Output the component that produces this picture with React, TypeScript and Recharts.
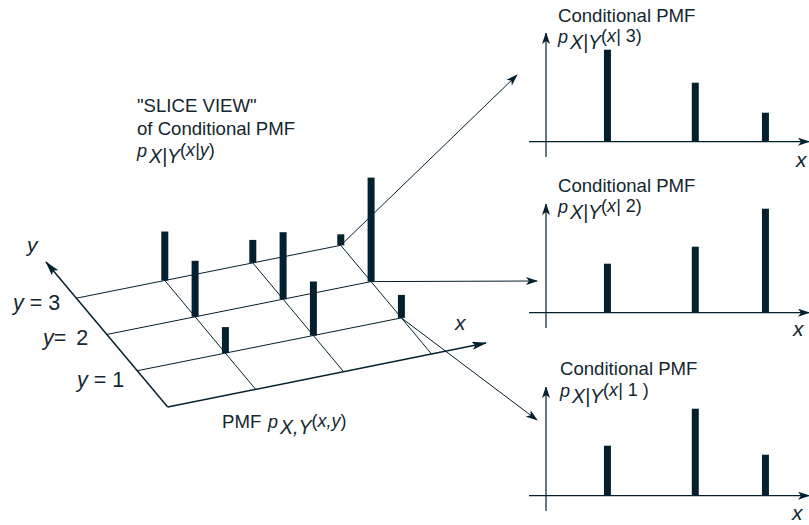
import { BarChart, Bar, ComposedChart, Line, ReferenceLine, XAxis, YAxis } from 'recharts';

const INK = '#04202e';
const TEXT = '#14262f';
const FONT = '"Liberation Sans", Arial, sans-serif';

// joint PMF stems, one list per y level, x = 1, 2, 3
const xLevels = [1, 2, 3];
const yLevels = [1, 2, 3];
const jointY1 = [0.26, 0.54, 0.23];
const jointY2 = [0.56, 0.67, 1.04];
const jointY3 = [0.49, 0.23, 0.11];

// conditional PMF panels
const supportX = [1, 2.44, 3.59];
const condY3 = [0.92, 0.59, 0.29];
const condY2 = [0.49, 0.66, 1.04];
const condY1 = [0.5, 0.87, 0.41];

// oblique projection of the plane onto the page
const ORIGIN = { x: 167.7, y: 407 };
const X_STEP = { x: 88, y: -17.6 };
const Y_STEP = { x: -30.3, y: -36.3 };
const project = (gx: number, gy: number) => ({
  px: ORIGIN.x + gx * X_STEP.x + gy * Y_STEP.x,
  py: ORIGIN.y + gx * X_STEP.y + gy * Y_STEP.y,
});

function stem(gx: number, gy: number, value: number) {
  const base = project(gx, gy);
  return [base, { px: base.px, py: base.py - value * 100 }];
}

const gridLines = [
  ...yLevels.map((gy) => [project(0, gy), project(3, gy)]),
  ...xLevels.map((gx) => [project(gx, 0), project(gx, 3)]),
];
const stems = [
  ...jointY3.map((v, i) => stem(xLevels[i], 3, v)),
  ...jointY2.map((v, i) => stem(xLevels[i], 2, v)),
  ...jointY1.map((v, i) => stem(xLevels[i], 1, v)),
];
const connectors = [
  [project(3, 3), { px: 517, py: 75 }],
  [project(3, 2), { px: 537, py: 281 }],
  [project(3, 1), { px: 537, py: 420 }],
];

function Arrow({ id, length = 12 }: { id: string; length?: number }) {
  return (
    <marker id={id} markerUnits="userSpaceOnUse" viewBox={`0 0 ${length} 8`} refX={length - 1} refY="4" markerWidth={length} markerHeight="8" orient="auto">
      <path d={`M0,0 L${length},4 L0,8 L3,4 Z`} fill={INK} />
    </marker>
  );
}

// p with a lowered subscript, then (args) where only the names are italic
function PSub({ x, y, sub, first, second }: { x: number; y: number; sub: string; first: string; second: string }) {
  const upright = /\d/.test(second);
  return (
    <text x={x} y={y} fontFamily={FONT} fontSize={18} fontStyle="italic" fill={TEXT}>
      <tspan>p</tspan>
      <tspan dy={6} dx={2} fontSize={19.5}>{sub}</tspan>
      <tspan dy={-7} fontStyle="normal">(</tspan>
      <tspan>{first}</tspan>
      <tspan fontStyle={upright ? 'normal' : 'italic'}>{second}</tspan>
      <tspan fontStyle="normal">)</tspan>
    </text>
  );
}

function Label({ x, y, children, italic, size = 18.6 }: { x: number; y: number; children: string; italic?: boolean; size?: number }) {
  return (
    <text x={x} y={y} fontFamily={FONT} fontSize={size} fontStyle={italic ? 'italic' : 'normal'} fill={TEXT}>
      {children}
    </text>
  );
}

function LevelLabel({ x, y, rest, gap = 0 }: { x: number; y: number; rest: string; gap?: number }) {
  return (
    <text x={x} y={y} fontFamily={FONT} fontSize={21.5} fill={TEXT} xmlSpace="preserve" wordSpacing={gap}>
      <tspan fontStyle="italic">y</tspan>
      <tspan>{rest}</tspan>
    </text>
  );
}

interface PanelProps {
  top: number;
  values: number[];
}

function CondPanel({ top, values }: PanelProps) {
  const data = supportX.map((x, i) => ({ x, p: values[i] }));
  const markerId = `tip-${top}`;
  return (
    <div style={{ position: 'absolute', left: 529, top, width: 280, height: 124 }}>
      <BarChart width={280} height={124} data={data} margin={{ top: 0, right: 0, bottom: 0, left: 0 }} style={{ overflow: 'visible' }}>
        <defs>
          <Arrow id={markerId} />
        </defs>
        <XAxis dataKey="x" type="number" domain={[-0.279, 4.311]} hide />
        <YAxis type="number" domain={[-0.153, 1.087]} hide />
        <ReferenceLine segment={[{ x: -0.279, y: 0 }, { x: 4.311, y: 0 }]} stroke={INK} strokeWidth={1.2} markerEnd={`url(#${markerId})`} />
        <ReferenceLine segment={[{ x: 0, y: -0.153 }, { x: 0, y: 1.087 }]} stroke={INK} strokeWidth={1.2} markerEnd={`url(#${markerId})`} />
        <Bar dataKey="p" fill={INK} barSize={7} isAnimationActive={false} activeBar={false} />
      </BarChart>
    </div>
  );
}

export default function App() {
  return (
    <div style={{ position: 'absolute', left: 0, top: 0, width: 809, height: 525, background: '#fff', overflow: 'hidden' }}>
      <ComposedChart width={809} height={525} margin={{ top: 0, right: 0, bottom: 0, left: 0 }}>
        <defs>
          <Arrow id="tip" />
          <Arrow id="axis-tip" length={15} />
        </defs>
        <XAxis dataKey="px" type="number" domain={[0, 809]} hide />
        <YAxis dataKey="py" type="number" domain={[0, 525]} reversed hide />
        {gridLines.map((pts, i) => (
          <Line key={`grid-${i}`} data={pts} dataKey="py" stroke={INK} strokeWidth={1} dot={false} activeDot={false} isAnimationActive={false} />
        ))}
        {connectors.map((pts, i) => (
          <Line key={`conn-${i}`} data={pts} dataKey="py" stroke={INK} strokeWidth={1} dot={false} activeDot={false} markerEnd="url(#tip)" isAnimationActive={false} />
        ))}
        <ReferenceLine
          segment={[{ x: project(0, 0).px, y: project(0, 0).py }, { x: 486, y: 343 }]}
          stroke={INK}
          strokeWidth={1.5}
          markerEnd="url(#axis-tip)"
        />
        <ReferenceLine
          segment={[{ x: project(0, 0).px, y: project(0, 0).py }, { x: 46, y: 262 }]}
          stroke={INK}
          strokeWidth={1.5}
          markerEnd="url(#axis-tip)"
        />
        {stems.map((pts, i) => (
          <Line key={`stem-${i}`} data={pts} dataKey="py" stroke={INK} strokeWidth={7} dot={false} activeDot={false} isAnimationActive={false} />
        ))}

        <Label x={137} y={112}>"SLICE VIEW"</Label>
        <Label x={137} y={135}>of Conditional PMF</Label>
        <PSub x={137} y={157} sub="X|Y" first="x|" second="y" />

        <Label x={27} y={252} italic size={21}>y</Label>
        <LevelLabel x={13} y={310} rest=" = 3" />
        <LevelLabel x={43} y={345} rest="= 2" gap={4} />
        <LevelLabel x={77} y={387} rest=" = 1" />
        <Label x={455} y={330} italic size={21}>x</Label>
        <Label x={222} y={428}>PMF</Label>
        <PSub x={268} y={428} sub="X,Y" first="x," second="y" />

        <Label x={558} y={22}>Conditional PMF</Label>
        <PSub x={558} y={43} sub="X|Y" first="x|" second=" 3" />
        <Label x={796} y={167} italic size={21}>x</Label>
        <Label x={558} y={192}>Conditional PMF</Label>
        <PSub x={558} y={213} sub="X|Y" first="x|" second=" 2" />
        <Label x={793} y={336} italic size={21}>x</Label>
        <Label x={560} y={375}>Conditional PMF</Label>
        <PSub x={560} y={397} sub="X|Y" first="x|" second=" 1 " />
        <Label x={792} y={520} italic size={21}>x</Label>
      </ComposedChart>
      <CondPanel top={33} values={condY3} />
      <CondPanel top={204} values={condY2} />
      <CondPanel top={387} values={condY1} />
    </div>
  );
}
